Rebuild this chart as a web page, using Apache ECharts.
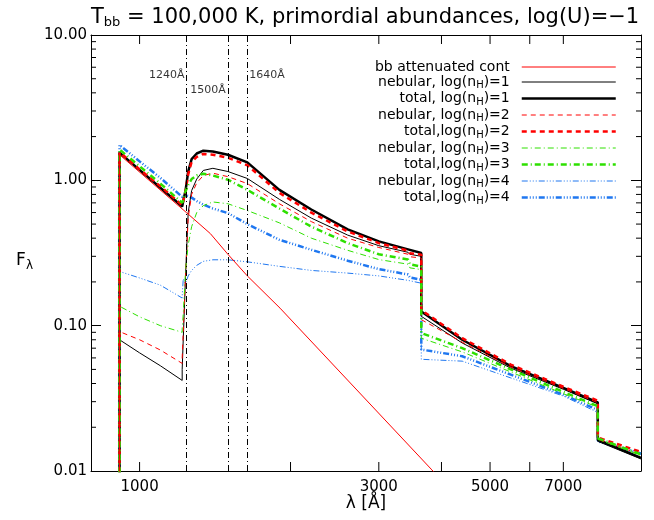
<!DOCTYPE html>
<html>
<head>
<meta charset="utf-8">
<script src="https://cdn.jsdelivr.net/npm/echarts@6/dist/echarts.min.js"></script>
<style>
  html, body { margin: 0; padding: 0; background: #fff; }
  #chart { width: 654px; height: 520px; }
</style>
</head>
<body>
<div id="chart"></div>
<script>
// wavelength grid (Angstrom) shared by the nebular / total curves
const lam = [912, 912, 1000, 1100, 1216, 1216, 1222, 1235, 1250, 1270, 1300, 1340, 1400, 1500, 1640,
  1900, 2200, 2600, 3000, 3430, 3460, 3646, 3646, 4400, 5500, 7000, 8200, 8200, 10000];

const neb1 = [0.001, 0.080, 0.065, 0.053, 0.042, 0.05, 0.08, 0.22, 0.6, 0.85, 1.02, 1.17, 1.21, 1.15, 1.03,
  0.74, 0.55, 0.42, 0.355, 0.32, 0.31, 0.30, 0.116, 0.076, 0.051, 0.0365, 0.029, 0.016, 0.0121];
const tot1 = [0.001, 1.55, 1.18, 0.89, 0.66, 0.68, 0.72, 0.85, 1.15, 1.40, 1.53, 1.60, 1.58, 1.50, 1.33,
  0.86, 0.63, 0.46, 0.38, 0.335, 0.325, 0.316, 0.125, 0.080, 0.0526, 0.0373, 0.0296, 0.0164, 0.0123];
const neb2 = [0.001, 0.091, 0.08, 0.068, 0.055, 0.06, 0.09, 0.22, 0.55, 0.80, 0.96, 1.08, 1.12, 1.06, 0.95,
  0.69, 0.52, 0.40, 0.345, 0.31, 0.298, 0.292, 0.110, 0.077, 0.052, 0.037, 0.0295, 0.0165, 0.013];
const tot2 = [0.001, 1.56, 1.19, 0.91, 0.675, 0.69, 0.72, 0.84, 1.10, 1.34, 1.45, 1.52, 1.50, 1.43, 1.27,
  0.82, 0.60, 0.445, 0.37, 0.328, 0.315, 0.308, 0.128, 0.082, 0.054, 0.038, 0.0305, 0.017, 0.0135];
const neb3 = [0.001, 0.136, 0.115, 0.10, 0.090, 0.095, 0.12, 0.24, 0.36, 0.48, 0.60, 0.67, 0.71, 0.69, 0.62,
  0.51, 0.40, 0.33, 0.285, 0.265, 0.25, 0.243, 0.082, 0.066, 0.048, 0.034, 0.0275, 0.0165, 0.0128];
const tot3 = [0.001, 1.63, 1.25, 0.95, 0.70, 0.71, 0.73, 0.84, 0.93, 1.02, 1.08, 1.11, 1.08, 1.01, 0.86,
  0.64, 0.48, 0.37, 0.31, 0.285, 0.265, 0.255, 0.089, 0.070, 0.050, 0.035, 0.0279, 0.0168, 0.013];
const neb4 = [0.001, 0.236, 0.213, 0.19, 0.155, 0.16, 0.21, 0.195, 0.22, 0.24, 0.26, 0.277, 0.284, 0.284, 0.275,
  0.256, 0.24, 0.23, 0.22, 0.205, 0.20, 0.196, 0.0587, 0.057, 0.0437, 0.0328, 0.0253, 0.0158, 0.013];
const tot4 = [0.001, 1.75, 1.35, 1.04, 0.77, 0.78, 0.79, 0.79, 0.78, 0.76, 0.72, 0.68, 0.64, 0.595, 0.50,
  0.39, 0.333, 0.28, 0.245, 0.225, 0.215, 0.207, 0.0685, 0.0616, 0.046, 0.0335, 0.0263, 0.0162, 0.0132];

// attenuated blackbody
const lamBB = [912, 912, 1240, 1384, 1500, 1640, 1906, 3815, 4200];
const bbF = [0.001, 1.5, 0.6, 0.43, 0.31, 0.22, 0.132, 0.0103, 0.0072];

// axes
const xMin = 800, xMax = 10000;
const yMin = 0.01, yMax = 10;
const xTicks = [1000, 2000, 3000, 4000, 5000, 6000, 7000];
const xLabels = [1000, 3000, 5000, 7000];
const yMinor = [0.02, 0.03, 0.04, 0.05, 0.06, 0.07, 0.08, 0.09, 0.2, 0.3, 0.4, 0.5, 0.6, 0.7, 0.8, 0.9,
  2, 3, 4, 5, 6, 7, 8, 9];

// marked lines
const refLines = [1240, 1500, 1640];
const refLabels = ['1240Å', '1500Å', '1640Å'];
const refLabelY = [5.3, 4.2, 5.3];

const FONT = 'DejaVu Sans';
const RED = '#ff0000', GREEN = '#2ee000', BLUE = '#1f77f0';
const DASH = [5, 4], DASHDOT = [6, 3, 1, 3], DASH3DOT = [6, 2, 1, 2, 1, 2, 1, 2];

function curve(name, ys, color, width, type, z) {
    return {
        name: name,
        type: 'line',
        data: lam.map((x, i) => [x, ys[i]]),
        symbol: 'none',
        z: z,
        itemStyle: { color: color },
        lineStyle: { color: color, width: width, type: type }
    };
}

let series = [
    {
        name: 'bb attenuated cont',
        type: 'line',
        data: lamBB.map((x, i) => [x, bbF[i]]),
        symbol: 'none',
        itemStyle: { color: RED },
        lineStyle: { color: RED, width: 1 },
        markLine: {
            silent: true,
            symbol: ['none', 'none'],
            label: { show: false },
            lineStyle: { color: '#000', width: 1, type: DASHDOT },
            data: refLines.map(v => ({ xAxis: v }))
        }
    },
    curve('nebular, log(nH)=1', neb1, '#000', 1, 'solid', 2),
    curve('total, log(nH)=1', tot1, '#000', 2.5, 'solid', 2),
    curve('nebular, log(nH)=2', neb2, RED, 1, DASH, 2),
    curve('total,log(nH)=2', tot2, RED, 2.5, DASH, 2),
    curve('nebular, log(nH)=3', neb3, GREEN, 1, DASHDOT, 2),
    curve('total,log(nH)=3', tot3, GREEN, 2.5, DASHDOT, 2),
    curve('nebular, log(nH)=4', neb4, BLUE, 1, DASH3DOT, 1),
    curve('total,log(nH)=4', tot4, BLUE, 2.5, DASH3DOT, 1),
    {
        // labels of the marked wavelengths
        type: 'scatter',
        symbolSize: 0,
        silent: true,
        data: refLines.map((v, i) => ({
            value: [v, refLabelY[i]],
            label: { position: i === 2 ? 'right' : 'left' }
        })),
        label: {
            show: true,
            distance: 2,
            formatter: p => refLabels[p.dataIndex],
            color: '#000',
            fontSize: 11,
            fontFamily: FONT
        }
    },
    {
        // x ticks, bottom and top
        type: 'custom',
        silent: true,
        data: xTicks.map(v => [v, yMin]),
        renderItem: function (params, api) {
            let b = api.coord([api.value(0), yMin]);
            let t = api.coord([api.value(0), yMax]);
            return {
                type: 'group',
                children: [
                    { type: 'line', shape: { x1: b[0], y1: b[1], x2: b[0], y2: b[1] - 9 }, style: { stroke: '#000', lineWidth: 1 } },
                    { type: 'line', shape: { x1: t[0], y1: t[1], x2: t[0], y2: t[1] + 9 }, style: { stroke: '#000', lineWidth: 1 } }
                ]
            };
        }
    },
    {
        // x tick labels
        type: 'custom',
        silent: true,
        data: xLabels.map(v => [v, yMin]),
        renderItem: function (params, api) {
            let b = api.coord([api.value(0), yMin]);
            return {
                type: 'text',
                style: {
                    x: b[0], y: b[1] + 9, text: String(xLabels[params.dataIndex]),
                    align: 'center', verticalAlign: 'top', fill: '#000', font: '15px ' + FONT
                }
            };
        }
    },
    {
        // y minor ticks, left and right
        type: 'custom',
        silent: true,
        data: yMinor.map(v => [xMin, v]),
        renderItem: function (params, api) {
            let l = api.coord([xMin, api.value(1)]);
            let r = api.coord([xMax, api.value(1)]);
            return {
                type: 'group',
                children: [
                    { type: 'line', shape: { x1: l[0], y1: l[1], x2: l[0] + 5, y2: l[1] }, style: { stroke: '#000', lineWidth: 1 } },
                    { type: 'line', shape: { x1: r[0], y1: r[1], x2: r[0] - 5, y2: r[1] }, style: { stroke: '#000', lineWidth: 1 } }
                ]
            };
        }
    }
];

let axisLine = { show: true, onZero: false, lineStyle: { color: '#000', width: 1 } };

let option = {
    animation: false,
    backgroundColor: '#fff',
    title: {
        text: 'T{s|bb} = 100,000 K, primordial abundances, log(U)=−1',
        left: 86,
        top: 1,
        textStyle: {
            fontFamily: FONT, fontSize: 21, fontWeight: 'normal', color: '#000',
            rich: { s: { fontFamily: FONT, fontSize: 13, padding: [10, 0, 0, 0], color: '#000' } }
        }
    },
    legend: {
        data: series.slice(0, 9).map(s => ({ name: s.name, lineStyle: { width: s.lineStyle.width } })),
        orient: 'vertical',
        right: 32,
        top: 55,
        align: 'right',
        itemWidth: 94,
        itemHeight: 10,
        itemGap: 1,
        selectedMode: false,
        itemStyle: { opacity: 0 },
        formatter: name => name.replace('nH', 'n{s|H}'),
        textStyle: {
            fontFamily: FONT, fontSize: 14, color: '#000', padding: [0, 7, 0, 0],
            rich: { s: { fontFamily: FONT, fontSize: 10, padding: [7, 0, 0, 0], color: '#000' } }
        }
    },
    grid: { left: 91, right: 13, top: 35, bottom: 49 },
    xAxis: [
        {
            type: 'log', logBase: 10, min: xMin, max: xMax, position: 'bottom',
            axisLine: axisLine, axisTick: { show: false }, axisLabel: { show: false }, splitLine: { show: false },
            name: 'λ [Å]', nameLocation: 'middle', nameGap: 24,
            nameTextStyle: { fontFamily: FONT, fontSize: 17, color: '#000' }
        },
        {
            type: 'log', logBase: 10, min: xMin, max: xMax, position: 'top',
            axisLine: axisLine, axisTick: { show: false }, axisLabel: { show: false }, splitLine: { show: false }
        }
    ],
    yAxis: [
        {
            type: 'log', logBase: 10, min: yMin, max: yMax, position: 'left',
            axisLine: axisLine,
            axisTick: { inside: true, length: 10, lineStyle: { color: '#000' } },
            axisLabel: { formatter: v => v.toFixed(2), color: '#000', fontSize: 15, fontFamily: FONT, margin: 4 },
            splitLine: { show: false },
            name: 'F{s|λ}', nameLocation: 'middle', nameRotate: 0, nameGap: 58,
            nameTextStyle: {
                fontFamily: FONT, fontSize: 17, color: '#000', padding: [16, 0, 0, 0],
                rich: { s: { fontFamily: FONT, fontSize: 12, padding: [9, 0, 0, 0], color: '#000' } }
            }
        },
        {
            type: 'log', logBase: 10, min: yMin, max: yMax, position: 'right',
            axisLine: axisLine,
            axisTick: { inside: true, length: 10, lineStyle: { color: '#000' } },
            axisLabel: { show: false }, splitLine: { show: false }
        }
    ],
    series: series
};

let chart = echarts.init(document.getElementById('chart'));
chart.setOption(option);
</script>
</body>
</html>
